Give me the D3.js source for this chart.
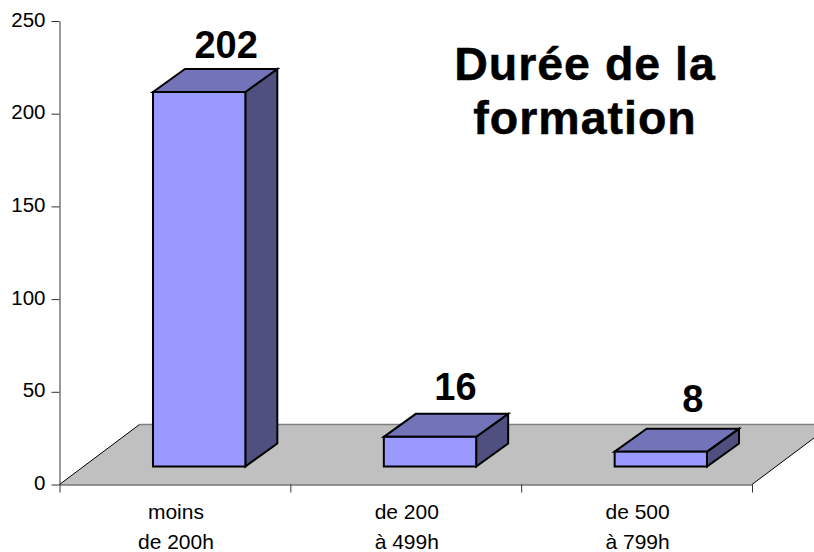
<!DOCTYPE html>
<meta charset="utf-8">
<style>
html, body { margin: 0; padding: 0; background: #fff; overflow: hidden; }
svg { display: block; }
text { font-family: "Liberation Sans", Arial, sans-serif; fill: #000; }
.axis text { font-size: 20.5px; }
.axis path, .axis line { stroke: #333; stroke-width: 1px; }
.value { font-size: 38px; font-weight: bold; text-anchor: middle; }
.title { font-size: 46.5px; font-weight: bold; text-anchor: middle; letter-spacing: 1px; stroke: #000; stroke-width: 0.5px; }
.face { stroke: #000; stroke-width: 2px; stroke-linejoin: miter; }
</style>
<svg width="814" height="552"></svg>

<script src="https://d3js.org/d3.v7.min.js"></script>
<script>

var categories = [["moins", "de 200h"], ["de 200", "à 499h"], ["de 500", "à 799h"]];
var values = [202, 16, 8];
var yTicks = [0, 50, 100, 150, 200, 250];
var titleLines = ["Durée de la", "formation"];

var svg = d3.select("svg"),
    margin = {top: 21, left: 59.5},
    width = 692.5,
    height = 463.5;

var g = svg.append("g")
    .attr("transform", "translate(" + margin.left + "," + margin.top + ")");

var x = d3.scaleBand()
    .domain(d3.range(categories.length))
    .range([0, width])
    .paddingInner(0.6)
    .paddingOuter(0.3);

var y = d3.scaleLinear().domain([0, 250]).range([height, 0]);

// depth of the floor and of the bars
var floor = {dx: 80, dy: -60},
    bar = {dx: 32, dy: -23},
    shift = x.step() * 0.105,
    lift = 18;

// the value labels don't sit at the same place over each bar
var labelDx = [27, 25.5, 32],
    labelDy = [-33.5, -37, -40];

// floor
g.append("path")
    .attr("fill", "#c0c0c0")
    .attr("d", "M0," + y(0) + "L" + width + "," + y(0) +
      "L" + (width + floor.dx) + "," + (y(0) + floor.dy) +
      "L" + floor.dx + "," + (y(0) + floor.dy) + "Z");

g.append("line")
    .attr("stroke", "#808080").attr("stroke-width", 1.5)
    .attr("x1", floor.dx).attr("x2", width + floor.dx)
    .attr("y1", y(0) + floor.dy).attr("y2", y(0) + floor.dy);

g.append("line")
    .attr("stroke", "#000")
    .attr("x1", 0).attr("x2", floor.dx)
    .attr("y1", y(0)).attr("y2", y(0) + floor.dy);

g.append("line")
    .attr("stroke", "#000")
    .attr("x1", width).attr("x2", width + floor.dx)
    .attr("y1", y(0)).attr("y2", y(0) + floor.dy);

// axes
g.append("g")
    .attr("class", "y axis")
    .call(d3.axisLeft(y).tickValues(yTicks).tickSize(8).tickPadding(6).tickSizeOuter(0))
  .selectAll("text")
    .attr("dy", "0.25em");

g.append("g")
    .attr("class", "x axis")
    .attr("transform", "translate(0," + y(0) + ")")
    .call(d3.axisBottom(d3.scaleLinear().domain([0, categories.length]).range([0, width]))
      .tickValues(d3.range(categories.length + 1)).tickSize(8).tickSizeOuter(0).tickFormat(""));

g.selectAll(".x.axis .domain, .y.axis .domain").attr("stroke", "#222");

// bars
var bars = g.selectAll(".bar")
    .data(values)
  .enter().append("g")
    .attr("class", "bar")
    .attr("transform", function(d, i) { return "translate(" + (x(i) + shift) + "," + (y(d) - lift) + ")"; });

bars.append("path")
    .attr("class", "face")
    .attr("fill", "#4f4f80")
    .attr("d", function(d) {
      var w = x.bandwidth(), h = y(0) - y(d);
      return "M" + w + ",0L" + (w + bar.dx) + "," + bar.dy + "V" + (h + bar.dy) + "L" + w + "," + h + "Z";
    });

bars.append("path")
    .attr("class", "face")
    .attr("fill", "#7373b9")
    .attr("d", function() {
      var w = x.bandwidth();
      return "M0,0L" + bar.dx + "," + bar.dy + "H" + (w + bar.dx) + "L" + w + ",0Z";
    });

bars.append("rect")
    .attr("class", "face")
    .attr("fill", "#9999ff")
    .attr("width", x.bandwidth())
    .attr("height", function(d) { return y(0) - y(d); });

// value labels
bars.append("text")
    .attr("class", "value")
    .attr("x", function(d, i) { return x.bandwidth() / 2 + labelDx[i]; })
    .attr("y", function(d, i) { return labelDy[i]; })
    .text(function(d) { return d; });

// category labels
var labels = g.selectAll(".cat")
    .data(categories)
  .enter().append("text")
    .attr("class", "cat")
    .attr("font-size", 21)
    .attr("text-anchor", "middle")
    .attr("transform", function(d, i) { return "translate(" + (x(i) + x.bandwidth() / 2 + 1) + "," + (y(0) + 34) + ")"; });

labels.selectAll("tspan")
    .data(function(d) { return d; })
  .enter().append("tspan")
    .attr("x", 0)
    .attr("y", function(d, i) { return i * 30; })
    .text(function(d) { return d; });

// title
svg.selectAll(".title")
    .data(titleLines)
  .enter().append("text")
    .attr("class", "title")
    .attr("x", 585)
    .attr("y", function(d, i) { return 80 + i * 54; })
    .text(function(d) { return d; });

</script>
